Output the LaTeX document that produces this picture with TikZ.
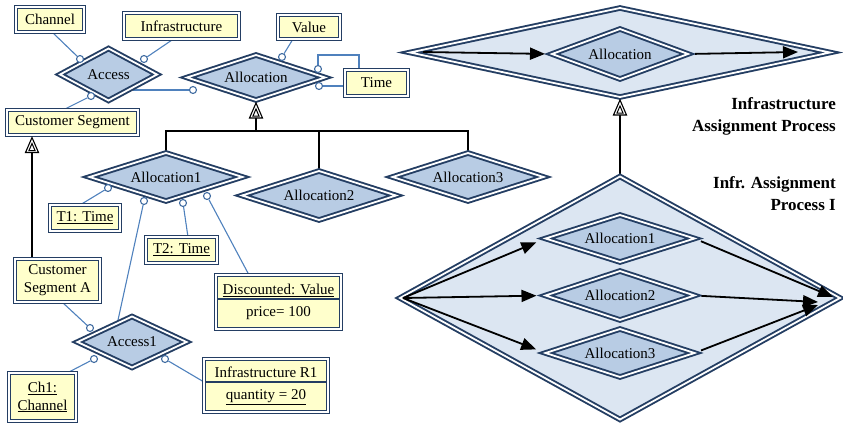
\documentclass[tikz,border=0pt]{standalone}
\usepackage{fontspec}
\setmainfont{Liberation Serif}
\usetikzlibrary{shapes.geometric,arrows.meta,calc,backgrounds}
\definecolor{dkblue}{RGB}{36,62,99}
\definecolor{relfill}{RGB}{184,204,228}
\definecolor{bigfill}{RGB}{220,230,242}
\definecolor{boxy}{RGB}{255,255,204}
\definecolor{connblue}{RGB}{79,129,189}
\newcommand{\gentri}[1]{%
  \draw[black,line width=1.1pt,fill=white,line join=miter] (#1) -- ++(-6.5,15) -- ++(13,0) -- cycle;
  \draw[black,line width=1pt] ($(#1)+(0,6)$) -- ++(-3,7) -- ++(6,0) -- cycle;}
\begin{document}
\begin{tikzpicture}[x=1pt,y=-1pt,font=\fontsize{15}{17}\selectfont,
  ebox/.style={draw=dkblue, line width=1.4pt, double=white, double distance=1.2pt, fill=boxy, inner sep=1pt, outer sep=0pt, align=center},
  rel/.style={diamond, aspect=3, draw=dkblue, line width=1.9pt, double=white, double distance=1.8pt, fill=relfill, inner sep=0pt, outer sep=0pt},
  bigrel/.style={rel, fill=bigfill},
  conn/.style={draw=connblue, line width=1.1pt},
  port/.style={circle, draw=connblue!70!dkblue, fill=white, line width=1.1pt, minimum size=7pt, inner sep=0pt},
  gen/.style={draw=black, line width=1.6pt},
  arr/.style={draw=black, line width=1.8pt, -{Triangle[length=15pt,width=12pt]}},
  lbl/.style={font=\fontsize{17}{22}\selectfont\bfseries, align=right, inner sep=0pt}]
\useasboundingbox (0,0) rectangle (843,424);

% ---------- left: entity boxes ----------
\node[ebox, minimum width=68pt, minimum height=25pt] (ch) at (50,19.5) {Channel};
\node[ebox, minimum width=115pt, minimum height=26pt] (inf) at (181.5,26) {Infrastructure};
\node[ebox, minimum width=62pt, minimum height=24pt] (val) at (309,27) {Value};
\node[ebox, minimum width=63pt, minimum height=26pt] (tim) at (376.5,83) {Time};
\node[ebox, minimum width=131pt, minimum height=25pt] (cs) at (72.5,122.5) {Customer Segment};
\node[ebox, minimum width=70pt, minimum height=26pt] (t1) at (85,218) {\underline{T1: Time}};
\node[ebox, minimum width=71pt, minimum height=26pt] (t2) at (181.5,250) {\underline{T2: Time}};
\node[ebox, minimum width=85pt, minimum height=43pt, font=\fontsize{15}{18}\selectfont] (csa) at (57.5,280.5) {Customer\\Segment A};
\node[ebox, minimum width=125pt, minimum height=54pt] (dv) at (278.5,302) {\underline{Discounted: Value}\\[5pt]price= 100};
\node[ebox, minimum width=67pt, minimum height=48pt, font=\fontsize{15}{18}\selectfont] (ch1) at (42.5,397) {\underline{Ch1:}\\\underline{Channel}};
\node[ebox, minimum width=124pt, minimum height=53pt] (ir) at (266,385.5) {Infrastructure R1\\[5pt]\underline{quantity = 20}};
\draw[dkblue, line width=1.8pt] ([xshift=2pt,yshift=3pt]dv.west) -- ([xshift=-2pt,yshift=3pt]dv.east);
\draw[dkblue, line width=1.8pt] ([xshift=2pt,yshift=3.5pt]ir.west) -- ([xshift=-2pt,yshift=3.5pt]ir.east);

% ---------- left: relationship diamonds ----------
\node[rel, minimum width=97pt, minimum height=52pt] (acc) at (108.5,74.5) {Access};
\node[rel, minimum width=138pt, minimum height=45pt] (alloc) at (256,77.5) {Allocation};
\node[rel, minimum width=153pt, minimum height=48pt] (a1) at (166,177) {Allocation1};
\node[rel, minimum width=154pt, minimum height=49pt] (a2) at (319,195.5) {Allocation2};
\node[rel, minimum width=151pt, minimum height=48pt] (a3) at (468,177) {Allocation3};
\node[rel, minimum width=109pt, minimum height=51pt] (ac1) at (132,342) {Access1};

% ports
\node[port] (pa1) at (80,59) {};
\node[port] (pa2) at (144,59) {};
\node[port] (pa3) at (91,96) {};
\node[port] (pl1) at (193,90) {};
\node[port] (pl2) at (282,57) {};
\node[port] (pl3) at (318,69) {};
\node[port] (pl4) at (319,86) {};
\node[port] (p11) at (108,188) {};
\node[port] (p12) at (144,201) {};
\node[port] (p13) at (183,203) {};
\node[port] (p14) at (207,196) {};
\node[port] (pc1) at (90,328) {};
\node[port] (pc2) at (94,359) {};
\node[port] (pc3) at (165,359) {};

\coordinate (accse) at ($(acc.east)!0.5!(acc.south)$);
\coordinate (ac1nw) at ($(ac1.north)!0.27!(ac1.west)$);
\coordinate (tk) at (359,55);
\coordinate (bar) at (0,131);

% generalisation apexes
\coordinate (g1) at ([yshift=-3pt]alloc.south);
\coordinate (g1b) at ($(g1)+(0,15)$);
\coordinate (g2) at ([xshift=-40.5pt,yshift=-2.5pt]cs.south);
\coordinate (g2b) at ($(g2)+(0,15)$);

% ---------- right side ----------
\node[bigrel, minimum width=420pt, minimum height=89pt] (top) at (620,52.5) {};
\node[rel, minimum width=136pt, minimum height=50pt] (ia) at (620,54) {Allocation};
\node[bigrel, minimum width=440pt, minimum height=243pt] (bot) at (620,298) {};
\node[rel, minimum width=149pt, minimum height=47pt] (b1) at (620,238.5) {Allocation1};
\node[rel, minimum width=149pt, minimum height=49pt] (b2) at (620,295.5) {Allocation2};
\node[rel, minimum width=149pt, minimum height=48pt] (b3) at (620,353) {Allocation3};
\coordinate (g3) at ([yshift=-3pt]top.south);
\coordinate (g3b) at ($(g3)+(0,15)$);

\coordinate (ts) at (423,52);
\coordinate (te) at (798,52);
\coordinate (ls) at (403,298);
\coordinate (e1) at (833,297);
\coordinate (e2) at (818,302);
\coordinate (e3) at (818,305);

\node[lbl, anchor=east] (lab1) at (836,116) {Infrastructure\\Assignment Process};
\node[lbl, anchor=east] (lab2) at (836,194) {Infr. Assignment\\Process I};

% ---------- connectors (behind) ----------
\begin{pgfonlayer}{background}
  \draw[conn] (pa1) -- ([xshift=2pt]ch.south);
  \draw[conn] (pa2) -- ([xshift=-8pt]inf.south);
  \draw[conn] (pa3) -- ([xshift=-9.5pt]cs.north);
  \draw[conn] (pl1) -- (pl1 -| accse);
  \draw[conn] (pl2) -- ([xshift=-16pt]val.south);
  \draw[conn] (pl3) |- (tk) -- ([xshift=-17.5pt]tim.north);
  \draw[conn] (pl4) -- (pl4 -| tim.west);
  \draw[conn] (p11) -- ([xshift=-5pt]t1.north);
  \draw[conn] (p12) -- (ac1nw);
  \draw[conn] (p13) -- ([xshift=6.5pt]t2.north);
  \draw[conn] (p14) -- ([xshift=-29.5pt]dv.north);
  \draw[conn] (pc1) -- ([xshift=4.5pt]csa.south);
  \draw[conn] (pc2) -- ([xshift=24.5pt]ch1.north);
  \draw[conn] (pc3) -- ([yshift=3.5pt]ir.west);
  \draw[gen] (g1b) -- (g1b |- bar);
  \draw[gen] (a1.north) |- (a3.north |- bar) -- (a3.north);
  \draw[gen] (a2.north) -- (a2.north |- bar);
  \draw[gen] (g2b) -- (g2b |- csa.north);
  \draw[gen] (g3b) -- (bot.north);
\end{pgfonlayer}

\gentri{g1}
\gentri{g2}
\gentri{g3}

% ---------- process arrows ----------
\draw[arr, shorten >=7pt] (ts) -- (ia.west);
\draw[arr, shorten <=7pt] (ia.east) -- (te);
\draw[arr, shorten >=10pt] (ls) -- (b1.west);
\draw[arr, shorten >=9pt] (ls) -- (b2.west);
\draw[arr, shorten >=10pt] (ls) -- (b3.west);
\draw[arr, shorten <=7pt] (b1.east) -- (e1);
\draw[arr, shorten <=7pt] (b2.east) -- (e2);
\draw[arr, shorten <=7pt] (b3.east) -- (e3);
\end{tikzpicture}
\end{document}
